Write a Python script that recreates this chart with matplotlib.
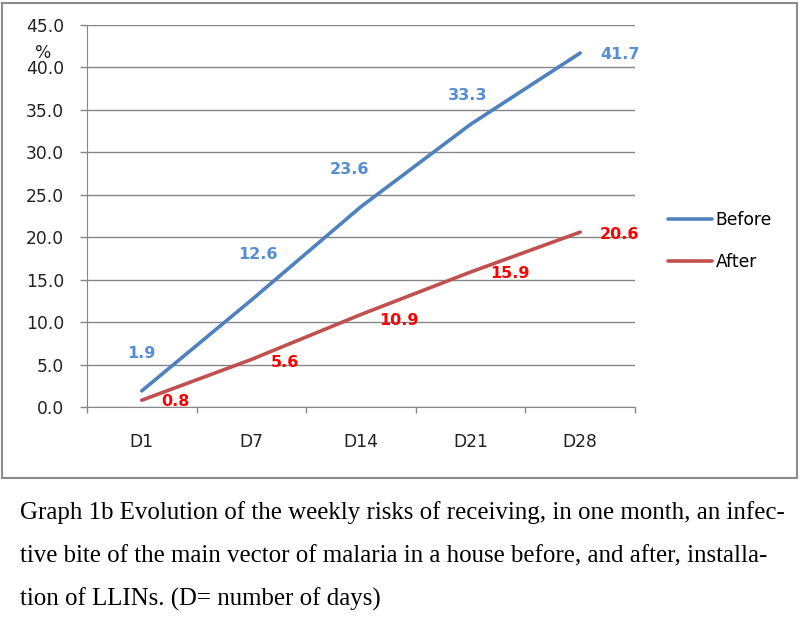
import matplotlib.pyplot as plt
from matplotlib.patches import Rectangle

days = ['D1', 'D7', 'D14', 'D21', 'D28']
before = [1.9, 12.6, 23.6, 33.3, 41.7]
after = [0.8, 5.6, 10.9, 15.9, 20.6]
yticks = [0, 5, 10, 15, 20, 25, 30, 35, 40, 45]

caption = [
    'Graph 1b Evolution of the weekly risks of receiving, in one month, an infec-',
    'tive bite of the main vector of malaria in a house before, and after, installa-',
    'tion of LLINs. (D= number of days)',
]

# label offsets in points (hand-placed in the original)
before_off = [(0, 27), (5, 33), (-8, 27), (-2, 21), (29, -1)]
after_off = [(24, -1), (24, -2), (27, -4), (28, -1), (28, -2)]

blue = '#4F81BD'
red = '#C0504D'
grid = '#868686'
fs = 12.3

plt.rcParams['font.family'] = ['DejaVu Sans']

fig = plt.figure(figsize=(8, 6.32), dpi=100)

# chart frame
fig.patches.append(Rectangle((2 / 800, 1 - 478 / 632), 795 / 800, 475 / 632,
                             transform=fig.transFigure, fill=False,
                             edgecolor='#8c8c8c', linewidth=1.5))

ax = fig.add_axes([87 / 800, 1 - 407 / 632, 548 / 800, 382 / 632])
x = range(len(days))
ax.plot(x, before, color=blue, linewidth=2.6, label='Before', solid_capstyle='round')
ax.plot(x, after, color=red, linewidth=2.6, label='After', solid_capstyle='round')

for i, v in enumerate(before):
    ax.annotate(f'{v:.1f}', (i, v), xytext=before_off[i], textcoords='offset points',
                ha='center', va='center', color='#558ED5', fontsize=11.5, fontweight='bold')
for i, v in enumerate(after):
    ax.annotate(f'{v:.1f}', (i, v), xytext=after_off[i], textcoords='offset points',
                ha='center', va='center', color='#FF0000', fontsize=11.5, fontweight='bold')

ax.set_xlim(-0.5, len(days) - 0.5)
ax.set_ylim(0, 45)
ax.set_yticks(yticks)
ax.set_yticklabels([f'{t:.1f}' for t in yticks])
ax.set_xticks(list(x))
ax.set_xticklabels(days)
ax.set_xticks([i - 0.5 for i in range(len(days) + 1)], minor=True)
ax.tick_params(axis='x', which='major', length=0, pad=19, labelsize=fs, colors='#222222')
ax.tick_params(axis='x', which='minor', length=4.5, color=grid, width=1)
ax.tick_params(axis='y', length=5, color=grid, width=1, pad=11.5, labelsize=fs, labelcolor='#222222')
ax.grid(axis='y', color=grid, linewidth=1)
ax.set_axisbelow(True)
for s in ['top', 'right']:
    ax.spines[s].set_visible(False)
ax.spines['left'].set_color(grid)
ax.spines['bottom'].set_color(grid)

fig.text(43 / 800, 1 - 53 / 632, '%', fontsize=fs, ha='center', va='center', color='#222222')

fig.legend(handles=ax.get_lines(), loc='upper left', bbox_to_anchor=(668 / 800, 1 - 211 / 632),
           frameon=False, fontsize=fs, borderpad=0, borderaxespad=0,
           handlelength=2.6, handletextpad=0.2, labelspacing=1.4)

for k, line in enumerate(caption):
    fig.text(20 / 800, 1 - (513 + 43 * k) / 632, line, fontsize=17.9,
             family='Liberation Serif', ha='left', va='center')

fig.savefig('out.png', dpi=100)
